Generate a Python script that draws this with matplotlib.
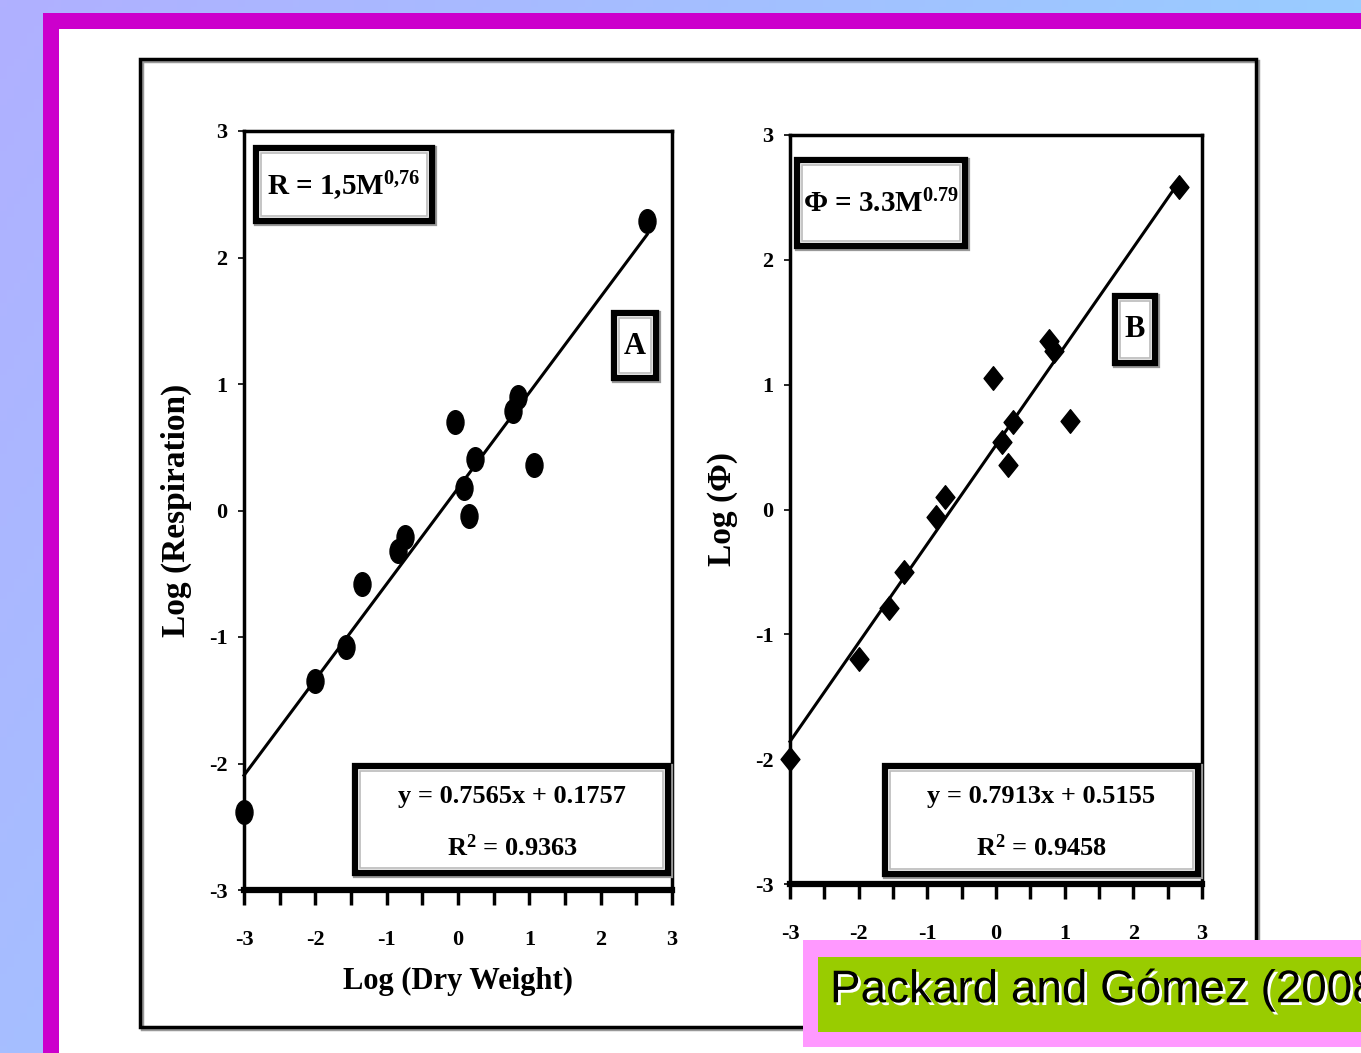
import numpy as np
import matplotlib
matplotlib.use("Agg")
import matplotlib.pyplot as plt
from matplotlib.patches import Rectangle
from matplotlib.path import Path
import matplotlib.patheffects as pe

plt.rcParams['font.family'] = ['Liberation Serif', 'DejaVu Serif']
plt.rcParams['font.weight'] = 'bold'
plt.rcParams['axes.labelweight'] = 'bold'
plt.rcParams['mathtext.fontset'] = 'custom'
plt.rcParams['mathtext.rm'] = 'Liberation Serif:bold'
plt.rcParams['mathtext.bf'] = 'Liberation Serif:bold'
plt.rcParams['mathtext.it'] = 'Liberation Serif:bold:italic'

# panel A: log dry weight vs log respiration
xa = [-3.0, -2.0, -1.57, -1.34, -0.84, -0.74, -0.04, 0.09, 0.16, 0.24, 0.77, 0.84, 1.07, 2.65]
ya = [-2.38, -1.35, -1.08, -0.58, -0.32, -0.21, 0.70, 0.18, -0.04, 0.41, 0.79, 0.90, 0.36, 2.29]
slope_a, icpt_a = 0.7565, 0.1757

# panel B: log dry weight vs log phi
xb = [-3.0, -2.0, -1.56, -1.34, -0.87, -0.74, -0.04, 0.09, 0.17, 0.25, 0.77, 0.85, 1.08, 2.66]
yb = [-2.0, -1.2, -0.79, -0.5, -0.06, 0.1, 1.05, 0.54, 0.36, 0.7, 1.35, 1.27, 0.71, 2.58]
slope_b, icpt_b = 0.7913, 0.5155

ticks = [-3, -2, -1, 0, 1, 2, 3]
minor = [-2.5, -1.5, -0.5, 0.5, 1.5, 2.5]

W, H = 1361, 1053


def fr(x0, y0, x1, y1):
    # pixel box (top-left origin) -> figure fraction
    return x0 / W, 1 - y1 / H, (x1 - x0) / W, (y1 - y0) / H


def rect(x0, y0, x1, y1, **kw):
    l, b, w, h = fr(x0, y0, x1, y1)
    r = Rectangle((l, b), w, h, transform=fig.transFigure, **kw)
    fig.add_artist(r)
    return r


def box(x0, y0, x1, y1):
    rect(x0 + 1, y0 + 1, x1 + 2, y1 + 2, facecolor='none', edgecolor='#999999', lw=4.5, zorder=5)
    rect(x0, y0, x1, y1, facecolor='white', edgecolor='black', lw=4.5, zorder=6)
    rect(x0 + 5, y0 + 5, x1 - 5, y1 - 5, facecolor='none', edgecolor='#bbbbbb', lw=1.2, zorder=6)


def ftext(x, y, s, **kw):
    fig.text(x / W, 1 - y / H, s, zorder=7, **kw)


fig = plt.figure(figsize=(W / 100, H / 100), dpi=100)

# background gradient
bg = fig.add_axes([0, 0, 1, 1], zorder=-10)
gx, gy = np.meshgrid(np.linspace(0, 1, 200), np.linspace(0, 1, 160))
c_tl = np.array([0xB0, 0xB0, 0xFF]) / 255
c_tr = np.array([0x99, 0xCC, 0xFF]) / 255
c_bl = np.array([0xA6, 0xBE, 0xFF]) / 255
img = (c_tl[None, None, :] + (c_tr - c_tl)[None, None, :] * gx[..., None]
       + (c_bl - c_tl)[None, None, :] * gy[..., None])
bg.imshow(np.clip(img, 0, 1), aspect='auto', extent=[0, 1, 0, 1])
bg.axis('off')

rect(43, 13, W + 20, H + 20, facecolor='#CC00CC', edgecolor='none', zorder=-5)
rect(59, 29, W + 20, H + 20, facecolor='white', edgecolor='none', zorder=-4)

# outer frame
rect(142, 61, 1258, 1029, facecolor='none', edgecolor='#999999', lw=2.5, zorder=-3)
rect(140, 59, 1256, 1027, facecolor='none', edgecolor='black', lw=2.5, zorder=-3)


def panel(pos, x, y, slope, icpt, marker, ylabel):
    ax = fig.add_axes(fr(*pos))
    ax.set_facecolor('none')
    ax.plot(x, y, linestyle='none', marker=marker, ms=17, color='black', zorder=4, clip_on=False)
    lx = np.array([min(x), max(x)])
    ax.plot(lx, slope * lx + icpt, color='black', lw=2.2, zorder=3, clip_on=False)
    ax.set_xlim(-3, 3)
    ax.set_ylim(-3, 3)
    ax.set_xticks(ticks)
    ax.set_xticks(minor, minor=True)
    ax.set_yticks(ticks)
    ax.set_xticklabels([str(t) for t in ticks], fontsize=16)
    ax.set_yticklabels([str(t) for t in ticks], fontsize=16)
    ax.tick_params(axis='x', which='both', direction='out', length=11, width=2.5, pad=18)
    ax.tick_params(axis='y', direction='out', length=4, width=1.2, pad=8)
    for s in ['top', 'right', 'left']:
        ax.spines[s].set_linewidth(2.5)
    ax.spines['bottom'].set_linewidth(4.5)
    ax.set_ylabel(ylabel, fontsize=24, fontweight='bold', labelpad=12)
    return ax


ell = Path.unit_circle().transformed(matplotlib.transforms.Affine2D().scale(0.72, 1.0))
dia = Path([(0, 1), (0.8, 0), (0, -1), (-0.8, 0), (0, 1)],
           [Path.MOVETO, Path.LINETO, Path.LINETO, Path.LINETO, Path.CLOSEPOLY])

axa = panel((244, 131, 672, 890), xa, ya, slope_a, icpt_a, ell, 'Log (Respiration)')
axa.set_xlabel('Log (Dry Weight)', fontsize=22, fontweight='bold', labelpad=12)
axb = panel((790, 135, 1202, 884), xb, yb, slope_b, icpt_b, dia, 'Log (\u03a6)')

# panel A annotations
box(256, 148, 432, 221)
ftext(344, 186, r'R = 1,5M$^{\mathrm{0{,}76}}$', fontsize=21, ha='center', va='center')
box(614, 313, 656, 378)
ftext(635, 346, 'A', fontsize=22, ha='center', va='center')
box(355, 766, 668, 873)
ftext(512, 797, 'y = 0.7565x + 0.1757', fontsize=19, ha='center', va='center')
ftext(512, 848, r'R$^{\mathrm{2}}$ = 0.9363', fontsize=19, ha='center', va='center')

# panel B annotations
box(797, 160, 965, 246)
ftext(881, 204, '\u03a6 = 3.3M$^{\\mathrm{0.79}}$', fontsize=21, ha='center', va='center')
box(1115, 296, 1155, 363)
ftext(1135, 330, 'B', fontsize=22, ha='center', va='center')
box(885, 766, 1198, 874)
ftext(1041, 797, 'y = 0.7913x + 0.5155', fontsize=19, ha='center', va='center')
ftext(1041, 848, r'R$^{\mathrm{2}}$ = 0.9458', fontsize=19, ha='center', va='center')

# citation label (runs off the right edge, as in the slide)
rect(803, 940, W + 20, 1047, facecolor='#FF99FF', edgecolor='none', zorder=8)
rect(818, 957, W + 20, 1032, facecolor='#99CC00', edgecolor='none', zorder=9)
fig.text(830 / W, 1 - 990 / H, 'Packard and G\u00f3mez (2008)', fontsize=33,
         family=['Liberation Sans', 'DejaVu Sans'], weight='normal',
         ha='left', va='center', color='black', zorder=10,
         path_effects=[pe.withSimplePatchShadow(offset=(2, -2), shadow_rgbFace='white', alpha=1.0)])

fig.savefig('out.png', dpi=100)
